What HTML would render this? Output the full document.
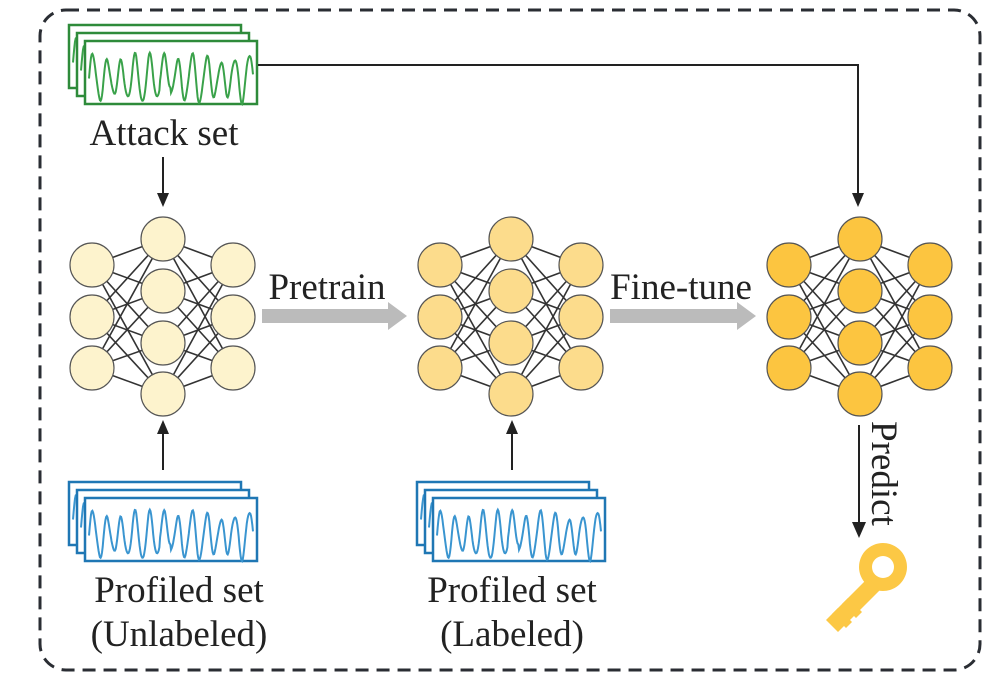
<!DOCTYPE html>
<html><head><meta charset="utf-8"><style>
html,body{margin:0;padding:0;background:#fff;}
svg{display:block;}
text{font-family:"Liberation Serif",serif;fill:#222;}
</style></head><body>
<svg id="s" width="998" height="688" viewBox="0 0 998 688" xmlns="http://www.w3.org/2000/svg">
<rect x="40" y="10" width="940" height="660" rx="26" fill="none" stroke="#2a2d33" stroke-width="3" stroke-dasharray="13 8"/>
<g id="g"></g>
<polyline points="258,65 858,65 858,195" fill="none" stroke="#222" stroke-width="2"/>
<path d="M852,193 L864,193 L858,207 z" fill="#222"/>
<line x1="163" y1="157" x2="163" y2="195" stroke="#222" stroke-width="2"/>
<path d="M157,193 L169,193 L163,207 z" fill="#222"/>
<line x1="163" y1="470" x2="163" y2="432" stroke="#222" stroke-width="2"/>
<path d="M157,434 L169,434 L163,420 z" fill="#222"/>
<line x1="512" y1="470" x2="512" y2="432" stroke="#222" stroke-width="2"/>
<path d="M506,434 L518,434 L512,420 z" fill="#222"/>
<line x1="859" y1="425" x2="859" y2="525" stroke="#222" stroke-width="2"/>
<path d="M852,522 L866,522 L859,538 z" fill="#222"/>
<path d="M262,309 L388,309 L388,302 L407,316 L388,330 L388,323 L262,323 z" fill="#bbb"/>
<path d="M610,309 L737,309 L737,302 L756,316 L737,330 L737,323 L610,323 z" fill="#bbb"/>
<text x="164" y="145" font-size="37" text-anchor="middle">Attack set</text>
<text x="327" y="299" font-size="37" text-anchor="middle">Pretrain</text>
<text x="681" y="299" font-size="37" text-anchor="middle">Fine-tune</text>
<text x="179" y="602" font-size="37" text-anchor="middle">Profiled set</text>
<text x="179" y="646" font-size="37" text-anchor="middle">(Unlabeled)</text>
<text x="512" y="602" font-size="37" text-anchor="middle">Profiled set</text>
<text x="512" y="646" font-size="37" text-anchor="middle">(Labeled)</text>
<text x="0" y="0" font-size="37" transform="translate(872,421) rotate(90)">Predict</text>
<g fill="#fcc845">
<circle cx="883" cy="567" r="24"/>
<path d="M868,578 L880,590 L838,632 L826,620 z"/>
<path d="M838,608 L852,622 L846,628 L832,614 z"/>
<path d="M848,598 L862,612 L856,618 L842,604 z"/>
</g>
<circle cx="883" cy="567" r="11" fill="#fff"/>
</svg>
<script>
const g=document.getElementById('g');const NS='http://www.w3.org/2000/svg';
function el(t,a){const e=document.createElementNS(NS,t);for(const k in a)e.setAttribute(k,a[k]);g.appendChild(e);return e;}
function net(dx,fill){
 const L=[265,317,368].map(y=>[92+dx,y]),M=[239,291,343,394].map(y=>[163+dx,y]),R=[265,317,368].map(y=>[233+dx,y]);
 for(const a of L)for(const b of M)el('line',{x1:a[0],y1:a[1],x2:b[0],y2:b[1],stroke:'#333','stroke-width':1.6});
 for(const a of M)for(const b of R)el('line',{x1:a[0],y1:a[1],x2:b[0],y2:b[1],stroke:'#333','stroke-width':1.6});
 for(const c of [...L,...M,...R])el('circle',{cx:c[0],cy:c[1],r:22,fill:fill,stroke:'#555','stroke-width':1.2});
}
net(0,'#fdf3cd');net(348,'#fcdc8c');net(697,'#fcc540');
function wave(x,y,w,h){let d='';const n=240;for(let i=0;i<=n;i++){const t=i/n;const px=x+4+t*(w-8);
 let v=Math.sin(t*Math.PI*2*11.5)*0.85+0.18*Math.sin(t*53)+0.1*Math.sin(t*140);
 if(t>0.43&&t<0.5)v+=0.25;
 const py=y+h/2+6 - v*h*0.38;d+=(i?'L':'M')+px.toFixed(1)+','+py.toFixed(1);}return d;}
function stack(x,y,col,lc){
 for(let k=0;k<3;k++){const X=x+8*k,Y=y+8*k,W=172,H=63;
  el('rect',{x:X,y:Y,width:W,height:H,fill:'#fff',stroke:col,'stroke-width':2.5});
  el('path',{d:wave(X,Y,W,H),fill:'none',stroke:lc,'stroke-width':2});}
}
stack(69,25,'#2e8b3a','#3aa24a');stack(69,482,'#1f77b4','#3a95d0');stack(417,482,'#1f77b4','#3a95d0');
</script>
</body></html>
